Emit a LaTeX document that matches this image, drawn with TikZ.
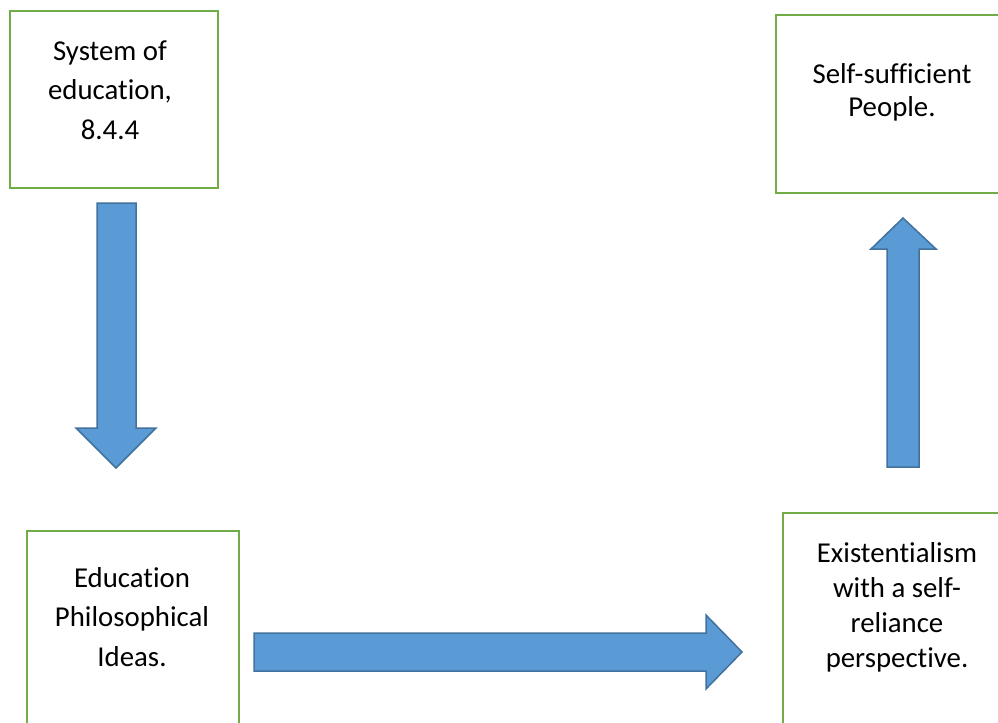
\documentclass[tikz,border=0pt]{standalone}
\usepackage{fontspec}
\setmainfont{Carlito}[Ligatures=NoCommon]
\definecolor{boxgreen}{HTML}{70AD47}
\definecolor{arrowfill}{HTML}{5B9BD5}
\definecolor{arrowline}{HTML}{41719C}

\begin{document}
\begin{tikzpicture}[x=0.5pt, y=-0.5pt]
        % styles
        \tikzset{
            box/.style={draw=boxgreen, line width=1pt, fill=white, inner sep=0pt, outer sep=0pt},
            txt/.style={align=center, inner sep=0pt, font=\fontsize{14.4}{#1}\selectfont},
            txt/.default=19.75,
            blockarrow/.style={fill=arrowfill, draw=arrowline, line width=0.75pt, line join=miter}
        }
        \useasboundingbox (0,0) rectangle (998,723);
        \clip (0,0) rectangle (998,723);
        
        % Kästen
        \node[box, minimum width=104pt, minimum height=88.5pt] (sys) at (114,99.5) {};
        \node[box, minimum width=117pt, minimum height=89pt] (self) at (893,104) {};
        \node[box, minimum width=106pt, minimum height=107pt] (phil) at (133,638) {};
        \node[box, minimum width=113.5pt, minimum height=116pt] (exist) at (896.5,629) {};
        
        % Texte
        \node[txt] (systxt) at (110,90) {System of\\education,\\8.4.4};
        \node[txt=16.5] (selftxt) at (892,92) {Self-sufficient\\People.};
        \node[txt] (philtxt) at (132,617) {Education\\Philosophical\\Ideas.};
        \node[txt=17.5] (existtxt) at (897,607) {Existentialism\\with a self-\\reliance\\perspective.};
        
        % Blockpfeile
        \draw[blockarrow] (97,203) -- (136,203) -- (136,428) -- (156,428) -- (116,468)
            -- (76,428) -- (97,428) -- cycle;
        \draw[blockarrow] (254,633) -- (706,633) -- (706,615) -- (742,652) -- (706,689)
            -- (706,671) -- (254,671) -- cycle;
        \draw[blockarrow] (887,467) -- (887,249) -- (871,249) -- (903,218) -- (936,249)
            -- (919,249) -- (919,467) -- cycle;
\end{tikzpicture}
\end{document}
